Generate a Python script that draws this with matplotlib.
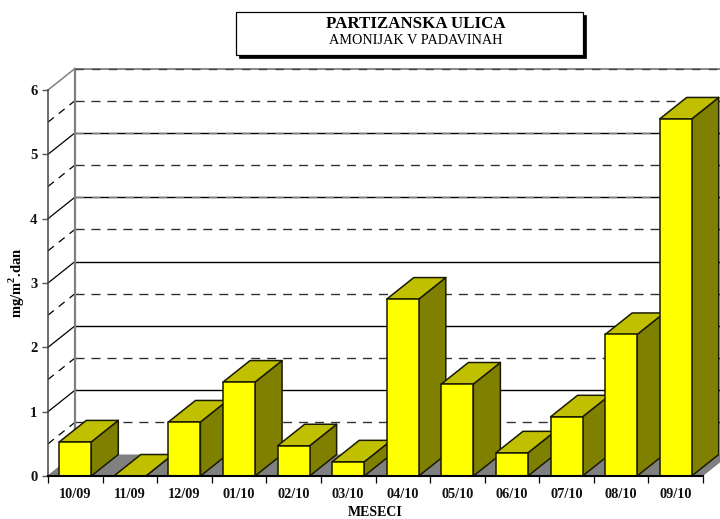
import matplotlib
matplotlib.use("Agg")
import matplotlib.pyplot as plt
from matplotlib.patches import Polygon, Rectangle

plt.rcParams['font.family'] = ['Liberation Serif', 'DejaVu Serif']
plt.rcParams['mathtext.fontset'] = 'custom'
plt.rcParams['mathtext.bf'] = 'Liberation Serif:bold'
plt.rcParams['mathtext.rm'] = 'Liberation Serif'

months = ['10/09', '11/09', '12/09', '01/10', '02/10', '03/10',
          '04/10', '05/10', '06/10', '07/10', '08/10', '09/10']
values = [0.53, 0.0, 0.84, 1.46, 0.47, 0.22, 2.75, 1.43, 0.36, 0.92, 2.20, 5.55]
y_ticks = [0, 1, 2, 3, 4, 5, 6]
title_main = 'PARTIZANSKA ULICA'
title_sub = 'AMONIJAK V PADAVINAH'
x_title = 'MESECI'
y_title = r'mg/m$^{\mathbf{2}}$.dan'

W, H = 720, 519
L, R, T, B = 48, 703, 90, 476
fig = plt.figure(figsize=(W / 100, H / 100), dpi=100, facecolor='white')
ax = fig.add_axes([L / W, 1 - B / H, (R - L) / W, (B - T) / H])
ax.set_xlim(0, len(months))
ax.set_ylim(0, 6)
ax.patch.set_alpha(0)

DX = 27 / ((R - L) / len(months))
DY = 21.5 / ((B - T) / 6)
BAR = 32 / ((R - L) / len(months))
GRAY = '#808080'

# floor
ax.add_patch(Polygon([(0, 0), (12, 0), (12 + DX, DY), (DX, DY)], closed=True,
                     fc=GRAY, ec='none', zorder=1, clip_on=False))

# walls
for i in range(1, 12):
    v = i / 2
    if i % 2:
        ax.plot([0, DX], [v, v + DY], color='black', lw=0.9, ls=(0, (6, 5)),
                zorder=1, clip_on=False)
        ax.plot([DX, 14], [v + DY, v + DY], color='#333333', lw=1.0, ls=(0, (6.5, 5)),
                zorder=1, clip_on=False)
    else:
        ax.plot([0, DX], [v, v + DY], color='black', lw=0.9, zorder=1, clip_on=False)
        ax.plot([DX, 14], [v + DY, v + DY], color='black', lw=1.0, zorder=1, clip_on=False)
        if v >= 4:
            ax.plot([DX, 14], [v + DY, v + DY], color=GRAY, lw=1.0, ls=(0, (6, 6)),
                    zorder=1.1, clip_on=False)
ax.plot([0, DX], [6, 6 + DY], color=GRAY, lw=1.1, zorder=1, clip_on=False)
ax.plot([DX, 14], [6 + DY, 6 + DY], color=GRAY, lw=1.3, zorder=1, clip_on=False)
ax.plot([DX, 14], [6 + DY, 6 + DY], color='#444444', lw=1.0, ls=(0, (6, 6)), zorder=1.1, clip_on=False)
ax.plot([DX, DX], [DY, 6 + DY], color=GRAY, lw=1.6, zorder=1, clip_on=False)
ax.plot([0, DX], [0, DY], color=GRAY, lw=1.0, zorder=1, clip_on=False)

# bars
for i, v in enumerate(values):
    x0 = i + 0.5 - BAR / 2
    x1 = x0 + BAR
    z = 2 + i * 0.01
    kw = dict(closed=True, ec='#1a1a00', lw=1.1, zorder=z, clip_on=False, joinstyle='round')
    ax.add_patch(Polygon([(x1, 0), (x1 + DX, DY), (x1 + DX, v + DY), (x1, v)], fc='#808000', **kw))
    ax.add_patch(Polygon([(x0, v), (x1, v), (x1 + DX, v + DY), (x0 + DX, v + DY)], fc='#C0C000', **kw))
    if v > 0:
        ax.add_patch(Polygon([(x0, 0), (x1, 0), (x1, v), (x0, v)], fc='#FFFF00', **kw))

# axes
for s in ('top', 'right'):
    ax.spines[s].set_visible(False)
ax.spines['left'].set_color('#444444')
ax.spines['left'].set_linewidth(1.1)
ax.spines['bottom'].set_color('black')
ax.spines['bottom'].set_linewidth(1.5)
ax.spines['bottom'].set_zorder(5)
ax.set_xticks(range(len(months) + 1))
ax.set_xticklabels([])
ax.set_xticks([i + 0.5 for i in range(len(months))], minor=True)
ax.set_xticklabels(months, minor=True, fontsize=10.3, fontweight='bold', color='#111111')
ax.tick_params(axis='x', which='major', length=5, width=0.9, color='black')
ax.tick_params(axis='x', which='minor', length=0, pad=9)
ax.set_yticks(y_ticks)
ax.set_yticklabels([str(t) for t in y_ticks], fontsize=10.5, fontweight='bold', color='#111111')
ax.tick_params(axis='y', length=4.5, width=1.0, color='#555555', pad=3)

fig.text(375 / W, 1 - 513 / H, x_title, ha='center', va='center', fontsize=10, fontweight='bold')
fig.text(17 / W, 1 - 283 / H, y_title, ha='center', va='center', rotation=90, fontsize=10.5,
         fontweight='bold')

# title box
fig.add_artist(Rectangle((239 / W, 1 - 58 / H), 347 / W, 43 / H, transform=fig.transFigure,
                         fc='black', ec='black', lw=0.5))
fig.add_artist(Rectangle((236 / W, 1 - 55 / H), 347 / W, 43 / H, transform=fig.transFigure,
                         fc='white', ec='black', lw=0.9))
fig.text(416 / W, 1 - 24 / H, title_main, ha='center', va='center', fontsize=12.2, fontweight='bold')
fig.text(416 / W, 1 - 41 / H, title_sub, ha='center', va='center', fontsize=10.3)

fig.savefig('out.png', dpi=100)
